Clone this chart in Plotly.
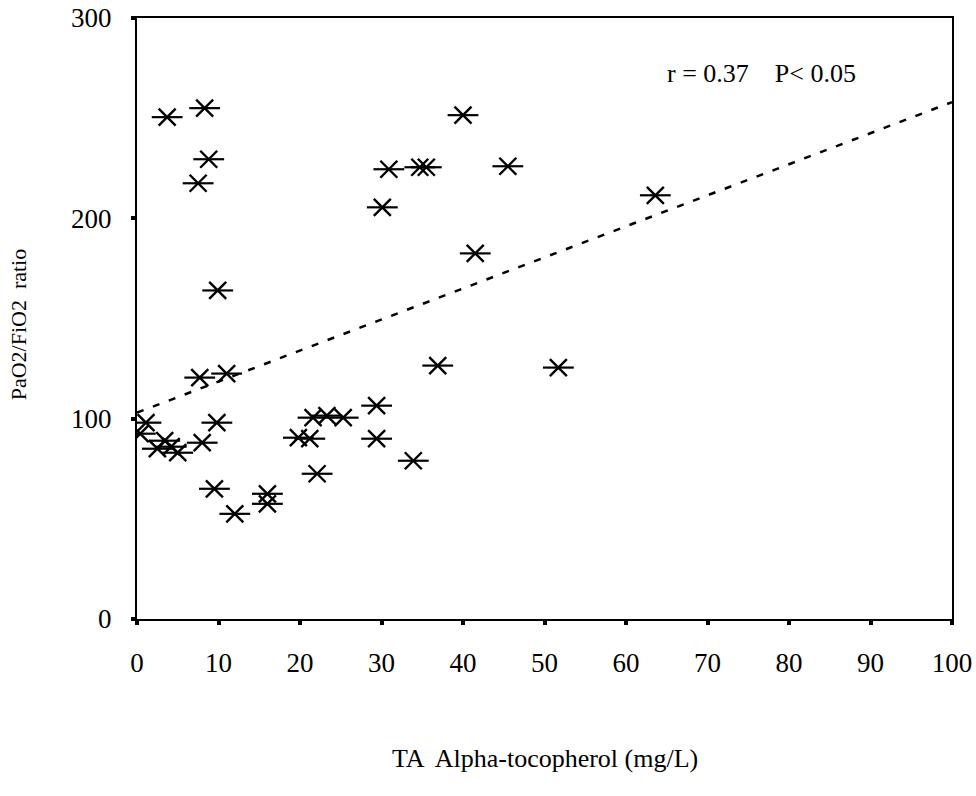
import plotly.graph_objects as go

# Alpha-tocopherol (mg/L) vs PaO2/FiO2 ratio
toco = [3.7, 8.3, 7.5, 8.8, 9.9, 7.7, 11.0, 9.8, 1.1, 0.4, 2.5, 3.4, 4.2, 5.0, 8.0,
        9.5, 12.0, 16.0, 16.0, 19.8, 21.2, 22.1, 21.6, 23.3, 25.3, 29.4, 29.4,
        33.9, 36.9, 30.1, 30.9, 34.7, 35.5, 40.0, 41.5, 45.5, 51.7, 63.6]
ratio = [250.5, 255, 217.5, 229.5, 164, 120.5, 122.5, 98, 98, 92.5, 85, 89, 86, 83, 88,
         65, 52.5, 62.5, 57.5, 90.5, 90, 72.5, 100.5, 101.5, 100.5, 106.5, 90,
         79, 126.5, 205.5, 224.5, 225.5, 225.5, 251.5, 182.5, 226, 125.5, 211.5]

# fitted regression line end points
fit_x = [0, 100]
fit_y = [103, 258]

x_ticks = [0, 10, 20, 30, 40, 50, 60, 70, 80, 90, 100]
y_ticks = [0, 100, 200, 300]

FONT = "Liberation Serif"

fig = go.Figure()

fig.add_trace(go.Scatter(
    x=fit_x, y=fit_y, mode="lines",
    line=dict(color="black", width=2.5, dash="7px,10px"),
    showlegend=False, hoverinfo="skip"))

# six-armed asterisk: an X plus a horizontal bar
fig.add_trace(go.Scatter(
    x=toco, y=ratio, mode="markers",
    marker=dict(symbol="x-thin-open", size=17, color="black",
                line=dict(color="black", width=2.4)),
    showlegend=False))
fig.add_trace(go.Scatter(
    x=toco, y=ratio, mode="markers",
    marker=dict(symbol="line-ew-open", size=22, color="black",
                line=dict(color="black", width=2.2)),
    showlegend=False, hoverinfo="skip"))

axis_common = dict(
    showline=True, linecolor="black", linewidth=2, mirror=True,
    showgrid=False, zeroline=False, automargin=False,
    ticks="outside", ticklen=4, tickwidth=4, tickcolor="black",
    tickfont=dict(family=FONT, size=27, color="black"),
)

fig.update_xaxes(range=[0, 100], tickvals=x_ticks, ticktext=[str(v) for v in x_ticks],
                 ticklabelstandoff=15, **axis_common)
fig.update_yaxes(range=[0, 300], tickvals=y_ticks, ticktext=[str(v) for v in y_ticks],
                 ticklabelstandoff=14, **axis_common)

fig.add_annotation(x=0.5, y=-0.232, xref="paper", yref="paper",
                   text="TA  Alpha-tocopherol (mg/L)", showarrow=False,
                   font=dict(family=FONT, size=26, color="black"),
                   xanchor="center", yanchor="middle")
fig.add_annotation(x=-0.145, y=0.49, xref="paper", yref="paper",
                   text="PaO2/FiO2  ratio", showarrow=False, textangle=-90,
                   font=dict(family=FONT, size=22, color="black"),
                   xanchor="center", yanchor="middle")
fig.add_annotation(x=0.766, y=0.907, xref="paper", yref="paper",
                   text="r = 0.37&nbsp;&nbsp;&nbsp;&nbsp;P< 0.05", showarrow=False,
                   font=dict(family=FONT, size=26, color="black"),
                   xanchor="center", yanchor="middle")

fig.update_layout(
    width=976, height=796,
    margin=dict(l=137, r=24, t=18, b=177),
    paper_bgcolor="white", plot_bgcolor="white",
)

fig.write_html("out.html")
